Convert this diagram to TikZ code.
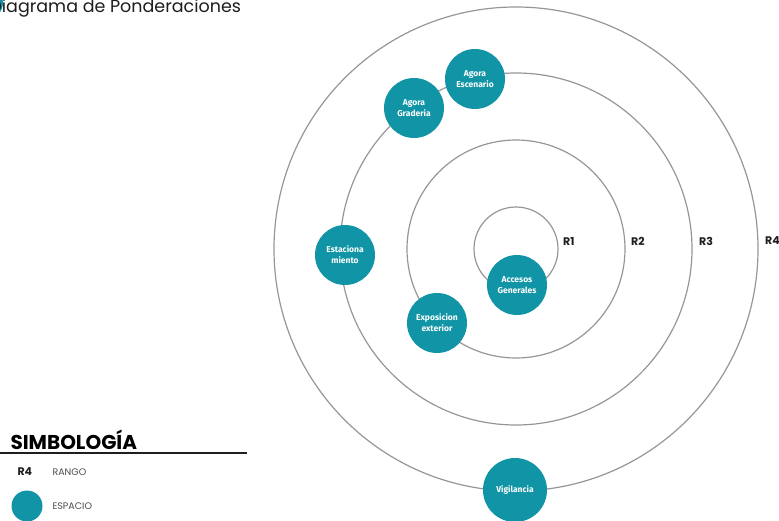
\documentclass[tikz,border=0pt]{standalone}
\usepackage{fontspec}
\setmainfont{Poppins}
\newfontfamily\espaciofont{Fira Sans}
\definecolor{espacioteal}{RGB}{16, 148, 166}
\definecolor{ringgray}{RGB}{150, 150, 150}
\definecolor{textdark}{RGB}{30, 30, 30}
\usetikzlibrary{positioning}

\tikzset{
  ring/.style={circle, draw=ringgray, line width=1.2pt, inner sep=0pt},
  espacio/.style={circle, fill=espacioteal, minimum size=60pt, inner sep=0pt, align=center, text=white, font=\espaciofont\bfseries\fontsize{8.5}{11}\selectfont},
  rango/.style={anchor=west, text=textdark, font=\bfseries\fontsize{11}{12}\selectfont},
  leyenda/.style={anchor=west, text=textdark!80, font=\fontsize{9.5}{11}\selectfont}
}

\begin{document}
\begin{tikzpicture}[x=1pt, y=-1pt]
  \useasboundingbox (0,0) rectangle (779,520);
  \begin{scope}
    \clip (0,0) rectangle (779,520);

    % Title
    \fill[espacioteal] (-12,3) circle (15);
    \node[anchor=west, text=textdark, font=\fontsize{17.5}{20}\selectfont] (titulo) at (-14,8) {Diagrama de Ponderaciones};

    % Rings
    \node[ring, minimum size=484pt] (ring4) at (516,249) {};
    \node[ring, minimum size=352pt] (ring3) at (516,249) {};
    \node[ring, minimum size=218pt] (ring2) at (516,249) {};
    \node[ring, minimum size=84pt] (ring1) at (516,249) {};

    \node[rango] (r1) at ([shift={(1,-8)}]ring1.east) {R1};
    \node[rango] (r2) at ([shift={(2,-8)}]ring2.east) {R2};
    \node[rango] (r3) at ([shift={(3,-8)}]ring3.east) {R3};
    \node[rango] (r4) at ([shift={(3,-8)}]ring4.east) {R4};

    % Espacios
    \node[espacio] (escenario) at (475,79) {Agora\\Escenario};
    \node[espacio] (graderia) at (414,108) {Agora\\Graderia};
    \node[espacio] (estacionamiento) at (345,255) {Estaciona\\miento};
    \node[espacio] (accesos) at (517,285) {Accesos\\Generales};
    \node[espacio] (exposicion) at (437,323) {Exposicion\\exterior};
    \node[espacio, minimum size=64pt] (vigilancia) at (515,490) {Vigilancia};

    % Simbologia
    \node[anchor=west, text=black, font=\bfseries\fontsize{20}{22}\selectfont] (simbologia) at (7,440) {SIMBOLOGÍA};
    \draw[line width=2pt, textdark] (0,453) -- (247,453);
    \node[rango] (leyrango) at (14,472) {R4};
    \node[leyenda] (rangotxt) at (49,472) {RANGO};
    \node[espacio, minimum size=31pt] (leyespacio) at (27,506) {};
    \node[leyenda] (espaciotxt) at (49,506) {ESPACIO};
  \end{scope}
\end{tikzpicture}
\end{document}
